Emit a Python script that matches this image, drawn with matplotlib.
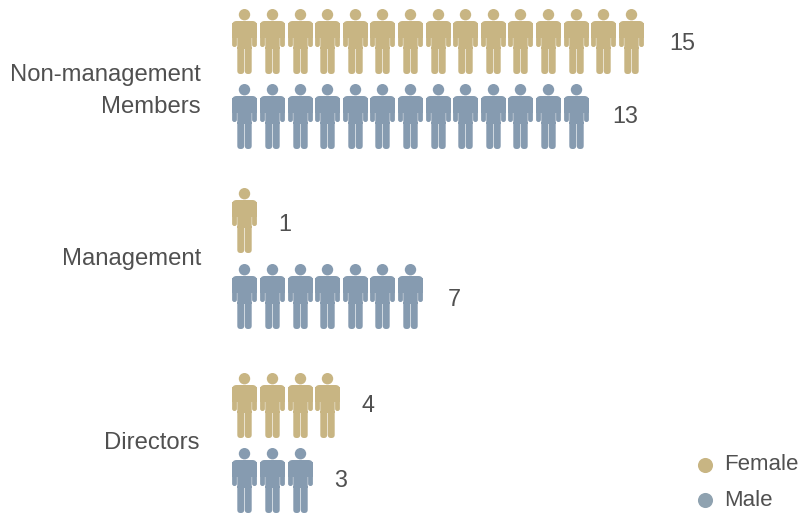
import numpy as np
import matplotlib
matplotlib.use("Agg")
import matplotlib.pyplot as plt
from matplotlib.path import Path

categories = ["Non-management\nMembers", "Management", "Directors"]
female_counts = [15, 1, 4]
male_counts = [13, 7, 3]

FEMALE = "#c8b583"
MALE = "#869bb0"
TEXT = "#505050"
FONT = 17.2

plt.rcParams["font.family"] = ["Liberation Sans", "DejaVu Sans"]


def rounded_rect(x0, x1, y0, y1, top=0.0, bottom=0.0):
    # rectangle with separate corner radius at top and bottom
    v = [(x0 + bottom, y0), (x1 - bottom, y0), (x1, y0), (x1, y0 + bottom),
         (x1, y1 - top), (x1, y1), (x1 - top, y1),
         (x0 + top, y1), (x0, y1), (x0, y1 - top),
         (x0, y0 + bottom), (x0, y0), (x0 + bottom, y0), (x0 + bottom, y0)]
    c = [Path.MOVETO, Path.LINETO, Path.CURVE3, Path.CURVE3,
         Path.LINETO, Path.CURVE3, Path.CURVE3,
         Path.LINETO, Path.CURVE3, Path.CURVE3,
         Path.LINETO, Path.CURVE3, Path.CURVE3, Path.CLOSEPOLY]
    return Path(v, c)


def person_marker():
    # pixel sizes, origin in the middle of the figure, y up
    mid = 32.5
    parts = [
        Path.circle((0, mid - 5.7), 5.7),
        rounded_rect(-12.4, 12.4, mid - 29, mid - 12, top=4.5),
        rounded_rect(-12.4, -7.6, mid - 38, mid - 14, bottom=2.3),
        rounded_rect(7.6, 12.4, mid - 38, mid - 14, bottom=2.3),
        rounded_rect(-7.2, 7.2, mid - 40, mid - 14),
        rounded_rect(-7.2, -0.3, mid - 65, mid - 38, bottom=3.2),
        rounded_rect(0.3, 7.2, mid - 65, mid - 38, bottom=3.2),
    ]
    return Path.make_compound_path(*parts)


fig = plt.figure(figsize=(7.99, 5.13), dpi=100)
ax = fig.add_axes([0, 0, 1, 1])
ax.set_xlim(0, 799)
ax.set_ylim(513, 0)
ax.axis("off")

marker = person_marker()
start_x = 244.3
pitch = 27.6
marker_pt = 65 * 72 / 100

# vertical centres of the rows in each group
female_y = [41.2, 220.2, 405.2]
male_y = [116.2, 296.2, 480.2]
label_y = [91, 259, 443]
# where the count labels sit relative to the end of their row
female_dx = [38.5, 34, 34.5]
male_dx = [36.5, 37.5, 34.5]
female_dy = [2.5, 4, 0]
male_dy = [0.5, 3, 0.5]


def draw_row(n, y, color, dx, dy):
    xs = start_x + pitch * np.arange(n)
    line, = ax.plot(xs, [y] * n, ls="none", marker=marker, ms=marker_pt,
                    mfc=color, mec="none", mew=0)
    line.set_snap(False)
    ax.text(xs[-1] + dx, y + dy, str(n), fontsize=FONT - 0.4, color=TEXT,
            ha="left", va="center")


for i, cat in enumerate(categories):
    draw_row(female_counts[i], female_y[i], FEMALE, female_dx[i], female_dy[i])
    draw_row(male_counts[i], male_y[i], MALE, male_dx[i], male_dy[i])
    ax.text(201 if i < 2 else 199, label_y[i], cat, fontsize=FONT, color=TEXT,
            ha="right", va="center", linespacing=1.55, multialignment="right")

# legend
ax.scatter([705], [464.5], s=118, color=FEMALE, linewidths=0)
ax.scatter([705], [499.5], s=118, color="#8fa2b0", linewidths=0)
ax.text(724.5, 465, "Female", fontsize=16, color=TEXT, ha="left", va="center")
ax.text(724.5, 501, "Male", fontsize=16, color=TEXT, ha="left", va="center")

fig.savefig("out.png", dpi=100)
